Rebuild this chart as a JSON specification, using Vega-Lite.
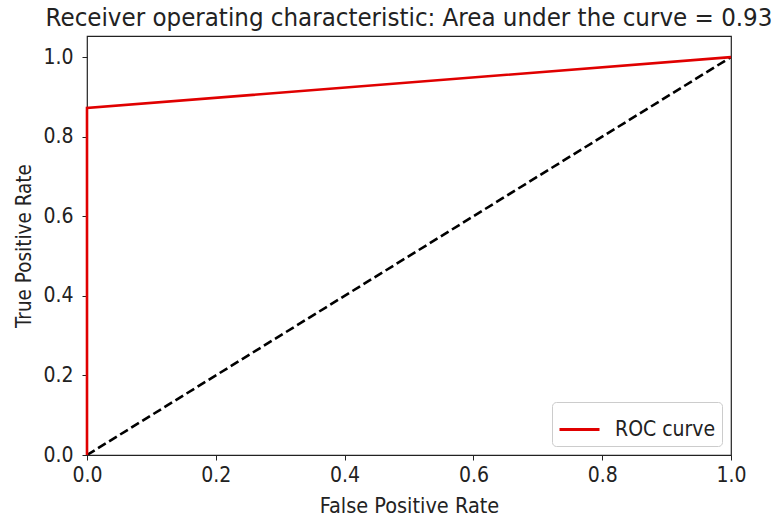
{
  "$schema": "https://vega.github.io/schema/vega-lite/v6.json",
  "autosize": {"type": "none"},
  "padding": {"left": 87, "top": 36, "right": 48, "bottom": 65},
  "width": 644,
  "height": 419,
  "background": "white",
  "title": {
    "text": "Receiver operating characteristic: Area under the curve = 0.93",
    "font": "DejaVu Sans Condensed",
    "fontSize": 25.6,
    "fontWeight": "normal",
    "color": "#222",
    "anchor": "middle",
    "offset": 4
  },
  "config": {
    "view": {"stroke": "#222", "strokeWidth": 1.2},
    "axis": {
      "grid": false,
      "domain": false,
      "tickColor": "#222",
      "tickSize": 5,
      "labelFont": "DejaVu Sans Condensed",
      "labelFontSize": 21,
      "labelColor": "#222",
      "titleFont": "DejaVu Sans Condensed",
      "titleFontWeight": "normal",
      "titleColor": "#222"
    }
  },
  "datasets": {
    "roc": [
      {"fpr": 0.0, "tpr": 0.0, "series": "ROC curve", "order": 0},
      {"fpr": 0.0, "tpr": 0.872, "series": "ROC curve", "order": 1},
      {"fpr": 1.0, "tpr": 1.0, "series": "ROC curve", "order": 2}
    ],
    "diag": [
      {"x": 0.0, "y": 0.0},
      {"x": 1.0, "y": 1.0}
    ]
  },
  "layer": [
    {
      "data": {"name": "diag"},
      "mark": {"type": "line", "color": "black", "strokeWidth": 2.6, "strokeDash": [9, 4], "clip": true},
      "encoding": {
        "x": {"field": "x", "type": "quantitative"},
        "y": {"field": "y", "type": "quantitative"}
      }
    },
    {
      "data": {"name": "roc"},
      "mark": {"type": "line", "strokeWidth": 2.6, "clip": false},
      "encoding": {
        "x": {
          "field": "fpr",
          "type": "quantitative",
          "title": "False Positive Rate",
          "scale": {"domain": [0, 1], "nice": false, "zero": false},
          "axis": {"values": [0, 0.2, 0.4, 0.6, 0.8, 1.0], "format": ".1f", "labelPadding": 4, "titlePadding": 10, "titleFontSize": 21.5, "labelFlush": false}
        },
        "y": {
          "field": "tpr",
          "type": "quantitative",
          "title": "True Positive Rate",
          "scale": {"domain": [0, 1.053], "nice": false, "zero": false},
          "axis": {"values": [0, 0.2, 0.4, 0.6, 0.8, 1.0], "format": ".1f", "labelPadding": 9, "titlePadding": 8, "titleFontSize": 20.5, "labelFlush": false}
        },
        "order": {"field": "order", "type": "quantitative"},
        "color": {
          "field": "series",
          "type": "nominal",
          "scale": {"domain": ["ROC curve"], "range": ["#e00000"]},
          "legend": {
            "title": null,
            "orient": "bottom-right",
            "offset": 9,
            "symbolType": "stroke",
            "symbolStrokeWidth": 3,
            "symbolSize": 1600,
            "symbolOffset": 0,
            "labelOffset": 14,
            "labelFont": "DejaVu Sans Condensed",
            "labelFontSize": 21,
            "labelColor": "#222",
            "strokeColor": "#ccc",
            "fillColor": "white",
            "cornerRadius": 4,
            "padding": 6
          }
        }
      }
    }
  ]
}
